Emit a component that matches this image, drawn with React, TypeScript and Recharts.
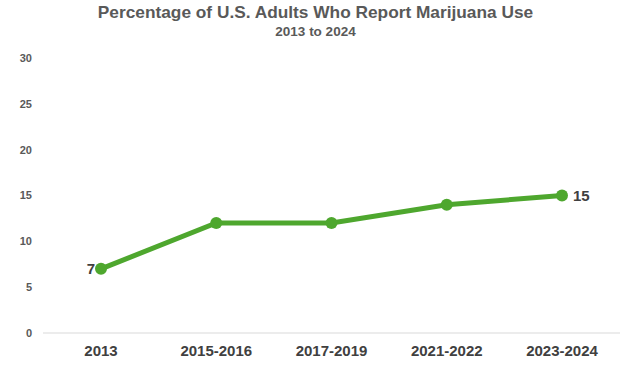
import React from "react";
import { LineChart, Line, XAxis, YAxis, LabelList } from "recharts";

const periods = ["2013", "2015-2016", "2017-2019", "2021-2022", "2023-2024"];
const usePct = [7, 12, 12, 14, 15];
const yTicks = [0, 5, 10, 15, 20, 25, 30];

const data = periods.map((period, i) => ({ period, value: usePct[i] }));

const FONT = "'Liberation Sans', Arial, sans-serif";

function EndLabel(props: any) {
  const { x, y, value, index } = props;
  if (index === 0) {
    return (
      <text x={x - 6} y={y} textAnchor="end" dominantBaseline="central" fill="#404040" fontSize={15} fontWeight="bold" fontFamily={FONT}>
        {value}
      </text>
    );
  }
  if (index === usePct.length - 1) {
    return (
      <text x={x + 11} y={y} textAnchor="start" dominantBaseline="central" fill="#404040" fontSize={15} fontWeight="bold" fontFamily={FONT}>
        {value}
      </text>
    );
  }
  return null;
}

export default function App() {
  return (
    <div style={{ position: "absolute", left: 0, top: 0, width: 631, height: 372, background: "#fff" }}>
      <div
        style={{
          position: "absolute",
          top: 2,
          left: 0,
          width: 631,
          textAlign: "center",
          fontFamily: FONT,
          fontWeight: "bold",
          color: "#595959",
          lineHeight: 1.2,
        }}
      >
        <div style={{ fontSize: 17.3 }}>Percentage of U.S. Adults Who Report Marijuana Use</div>
        <div style={{ fontSize: 13.5, marginTop: 1 }}>2013 to 2024</div>
      </div>
      <LineChart width={631} height={372} data={data} margin={{ top: 58, right: 11, bottom: 0, left: 0 }}>
        <XAxis
          dataKey="period"
          height={39}
          padding={{ left: 58, right: 58 }}
          tickLine={false}
          tickSize={0}
          tickMargin={12}
          axisLine={{ stroke: "#d9d9d9" }}
          tick={{ fill: "#404040", fontSize: 15, fontWeight: "bold", fontFamily: FONT }}
        />
        <YAxis
          width={43}
          domain={[0, 30]}
          ticks={yTicks}
          axisLine={false}
          tickLine={false}
          tickSize={0}
          tickMargin={11}
          tick={{ fill: "#595959", fontSize: 11, fontWeight: "bold", fontFamily: FONT }}
        />
        <Line
          type="linear"
          dataKey="value"
          stroke="#4ea72e"
          strokeWidth={5}
          dot={{ r: 6, fill: "#4ea72e", stroke: "#4ea72e", strokeWidth: 0 }}
          isAnimationActive={false}
        >
          <LabelList dataKey="value" content={EndLabel} />
        </Line>
      </LineChart>
    </div>
  );
}
